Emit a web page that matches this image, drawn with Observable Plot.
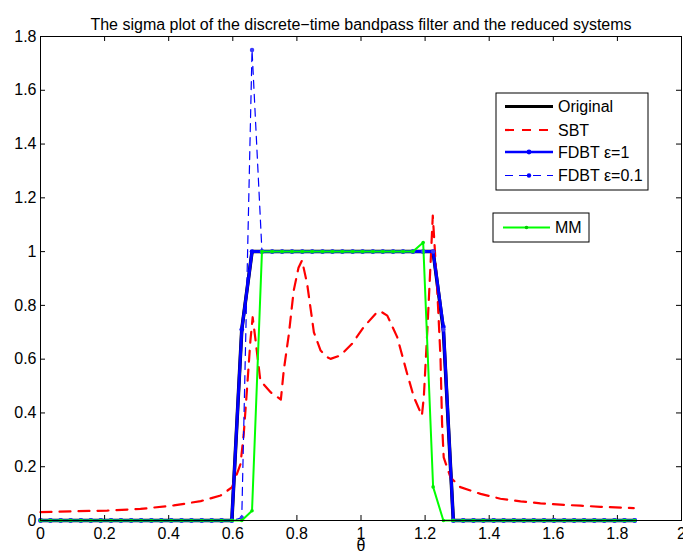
<!DOCTYPE html>
<html><head><meta charset="utf-8">
<script src="https://cdn.jsdelivr.net/npm/d3@7"></script>
<script src="https://cdn.jsdelivr.net/npm/@observablehq/plot@0.6"></script>
<style>body{margin:0;background:#fff} svg{display:block}</style>
</head><body><div id="chart"></div>
<script>
// sampling grid (theta)
const theta = [0, 0.031, 0.063, 0.094, 0.126, 0.157, 0.188, 0.220, 0.251, 0.283,
  0.314, 0.346, 0.377, 0.408, 0.440, 0.471, 0.503, 0.534, 0.565, 0.597,
  0.628, 0.660, 0.691, 0.723, 0.754, 0.785, 0.817, 0.848, 0.880, 0.911,
  0.942, 0.974, 1.005, 1.037, 1.068, 1.100, 1.131, 1.162, 1.194, 1.225,
  1.257, 1.288, 1.319, 1.351, 1.382, 1.414, 1.445, 1.477, 1.508, 1.539,
  1.571, 1.602, 1.634, 1.665, 1.696, 1.728, 1.759, 1.791, 1.822, 1.854];

const original = [0,0,0,0,0,0,0,0,0,0, 0,0,0,0,0,0,0,0,0,0,
  0.71,1,1,1,1,1,1,1,1,1, 1,1,1,1,1,1,1,1,1,1,
  0.71,0,0,0,0,0,0,0,0,0, 0,0,0,0,0,0,0,0,0,0];

const fdbt1 = [0,0,0,0,0,0,0,0,0,0, 0,0,0,0,0,0,0,0,0,0,
  0.71,1,1,1,1,1,1,1,1,1, 1,1,1,1,1,1,1,1,1,1,
  0.72,0,0,0,0,0,0,0,0,0, 0,0,0,0,0,0,0,0,0,0];

const fdbt01 = [0,0,0,0,0,0,0,0,0,0, 0,0,0,0,0,0,0,0,0,0,
  0.01,1.75,1,1,1,1,1,1,1,1, 1,1,1,1,1,1,1,1,1,1,
  0.71,0,0,0,0,0,0,0,0,0, 0,0,0,0,0,0,0,0,0,0];

const mm = [0,0,0,0,0,0,0,0,0,0, 0,0,0,0,0,0,0,0,0,0,
  0,0.036,1,1,1,1,1,1,1,1, 1,1,1,1,1,1,1,1,1.034,0.125,
  0,0,0,0,0,0,0,0,0,0, 0,0,0,0,0,0,0,0,0,0];

// SBT curve
const sbtTheta = [0, 0.1, 0.208, 0.312, 0.416, 0.5, 0.562, 0.598, 0.624, 0.634,
  0.645, 0.655, 0.662, 0.670, 0.686, 0.718, 0.750, 0.759, 0.775, 0.790,
  0.805, 0.816, 0.832, 0.853, 0.874, 0.894, 0.905, 0.936, 0.972, 1.009,
  1.050, 1.062, 1.082, 1.113, 1.144, 1.165, 1.190, 1.196, 1.207, 1.217,
  1.224, 1.238, 1.248, 1.253, 1.258, 1.279, 1.310, 1.373, 1.435, 1.498,
  1.560, 1.622, 1.685, 1.747, 1.851];
const sbtValues = [0.031, 0.034, 0.037, 0.043, 0.056, 0.072, 0.093, 0.124, 0.21, 0.32,
  0.50, 0.67, 0.756, 0.68, 0.52, 0.477, 0.45, 0.558, 0.694, 0.855,
  0.94, 0.967, 0.88, 0.70, 0.632, 0.608, 0.601, 0.614, 0.657, 0.72,
  0.775, 0.777, 0.762, 0.682, 0.546, 0.459, 0.39, 0.459, 0.707, 0.955,
  1.134, 0.855, 0.607, 0.36, 0.235, 0.161, 0.124, 0.099, 0.081, 0.071,
  0.064, 0.059, 0.055, 0.051, 0.046];

const xTicks = [0, 0.2, 0.4, 0.6, 0.8, 1, 1.2, 1.4, 1.6, 1.8, 2];
const yTicks = [0, 0.2, 0.4, 0.6, 0.8, 1, 1.2, 1.4, 1.6, 1.8];
const seriesNames = ["Original", "SBT", "FDBT \u03b5=1", "FDBT \u03b5=0.1", "MM"];
const title = "The sigma plot of the discrete\u2212time bandpass filter and the reduced systems";
const xLabel = "\u03b8";

const rows = ys => theta.map((t, i) => ({x: t, y: ys[i]}));
const sbtRows = sbtTheta.map((t, i) => ({x: t, y: sbtValues[i]}));
const fmt = d => String(+d.toFixed(1));

const W = 683, H = 557, mL = 40, mR = 2, mT = 36, mB = 37;
const frameH = H - mT - mB;
const FONT = "'Liberation Sans', Arial, Helvetica, sans-serif";

const svg = Plot.plot({
  width: W, height: H,
  marginLeft: mL, marginRight: mR, marginTop: mT, marginBottom: mB,
  style: {fontFamily: FONT, fontSize: "16px", background: "#fff", color: "#000"},
  x: {domain: [0, 2]},
  y: {domain: [0, 1.8]},
  marks: [
    Plot.tickX(xTicks, {x: d => d, stroke: "#000", insetTop: frameH - 5}),
    Plot.tickX(xTicks, {x: d => d, stroke: "#000", insetBottom: frameH - 5}),
    Plot.tickY(yTicks, {y: d => d, stroke: "#000", insetRight: (W - mL - mR) - 5}),
    Plot.tickY(yTicks, {y: d => d, stroke: "#000", insetLeft: (W - mL - mR) - 5}),
    Plot.line(rows(original), {x: "x", y: "y", stroke: "#000", strokeWidth: 3.5}),
    Plot.line(sbtRows, {x: "x", y: "y", stroke: "#ff0000", strokeWidth: 2.2, strokeDasharray: "11,8"}),
    Plot.line(rows(fdbt1), {x: "x", y: "y", stroke: "#0000ff", strokeWidth: 3}),
    Plot.dot(rows(fdbt1), {x: "x", y: "y", r: 2.4, fill: "#0000ff"}),
    Plot.line(rows(fdbt01), {x: "x", y: "y", stroke: "#0000ff", strokeWidth: 1.2, strokeDasharray: "8,6"}),
    Plot.dot(rows(fdbt01), {x: "x", y: "y", r: 2.2, fill: "#3a3aff"}),
    Plot.line(rows(mm), {x: "x", y: "y", stroke: "#00ff00", strokeWidth: 2}),
    Plot.dot(rows(mm), {x: "x", y: "y", r: 1.8, fill: "#00ee00"}),
    Plot.frame({stroke: "#000"}),
    Plot.axisX(xTicks, {tickSize: 0, tickPadding: 7, tickFormat: fmt, fontSize: 16, label: null}),
    Plot.axisY(yTicks, {tickSize: 0, tickPadding: 4, tickFormat: fmt, fontSize: 16, label: null}),
    Plot.text([xLabel], {frameAnchor: "bottom", dy: 30, fontSize: 16}),
    Plot.text([title], {frameAnchor: "top", dy: -18, fontSize: 16})
  ]
});
document.getElementById("chart").appendChild(svg);

// legend (MATLAB style boxes)
const g = d3.select(svg).append("g").attr("font-family", FONT).attr("font-size", 16)
  .attr("text-anchor", "start");
function box(x, y, w, h) {
  g.append("rect").attr("x", x).attr("y", y).attr("width", w).attr("height", h)
    .attr("fill", "#fff").attr("stroke", "#000").attr("stroke-width", 1);
}
function entry(x1, x2, y, label, stroke, width, dash, dot, dotFill) {
  g.append("line").attr("x1", x1).attr("x2", x2).attr("y1", y).attr("y2", y)
    .attr("stroke", stroke).attr("stroke-width", width).attr("stroke-dasharray", dash || null);
  if (dot) g.append("circle").attr("cx", (x1 + x2) / 2).attr("cy", y).attr("r", dot).attr("fill", dotFill || stroke);
  g.append("text").attr("x", x2 + 5).attr("y", y).attr("dy", "0.35em")
    .attr("text-anchor", "start").text(label);
}
box(496, 93, 152, 97);
entry(505, 553, 106.5, seriesNames[0], "#000", 3, null, 0);
entry(505, 553, 130, seriesNames[1], "#ff0000", 2.2, "9,8", 0);
entry(505, 553, 152, seriesNames[2], "#0000ff", 2.5, null, 2.4);
entry(505, 553, 175.5, seriesNames[3], "#0000ff", 1.2, "8,6", 2.2);
box(493, 213, 96, 29);
entry(503, 550, 227.5, seriesNames[4], "#00ff00", 2, null, 1.8, "#00cc00");
</script>
</body></html>
